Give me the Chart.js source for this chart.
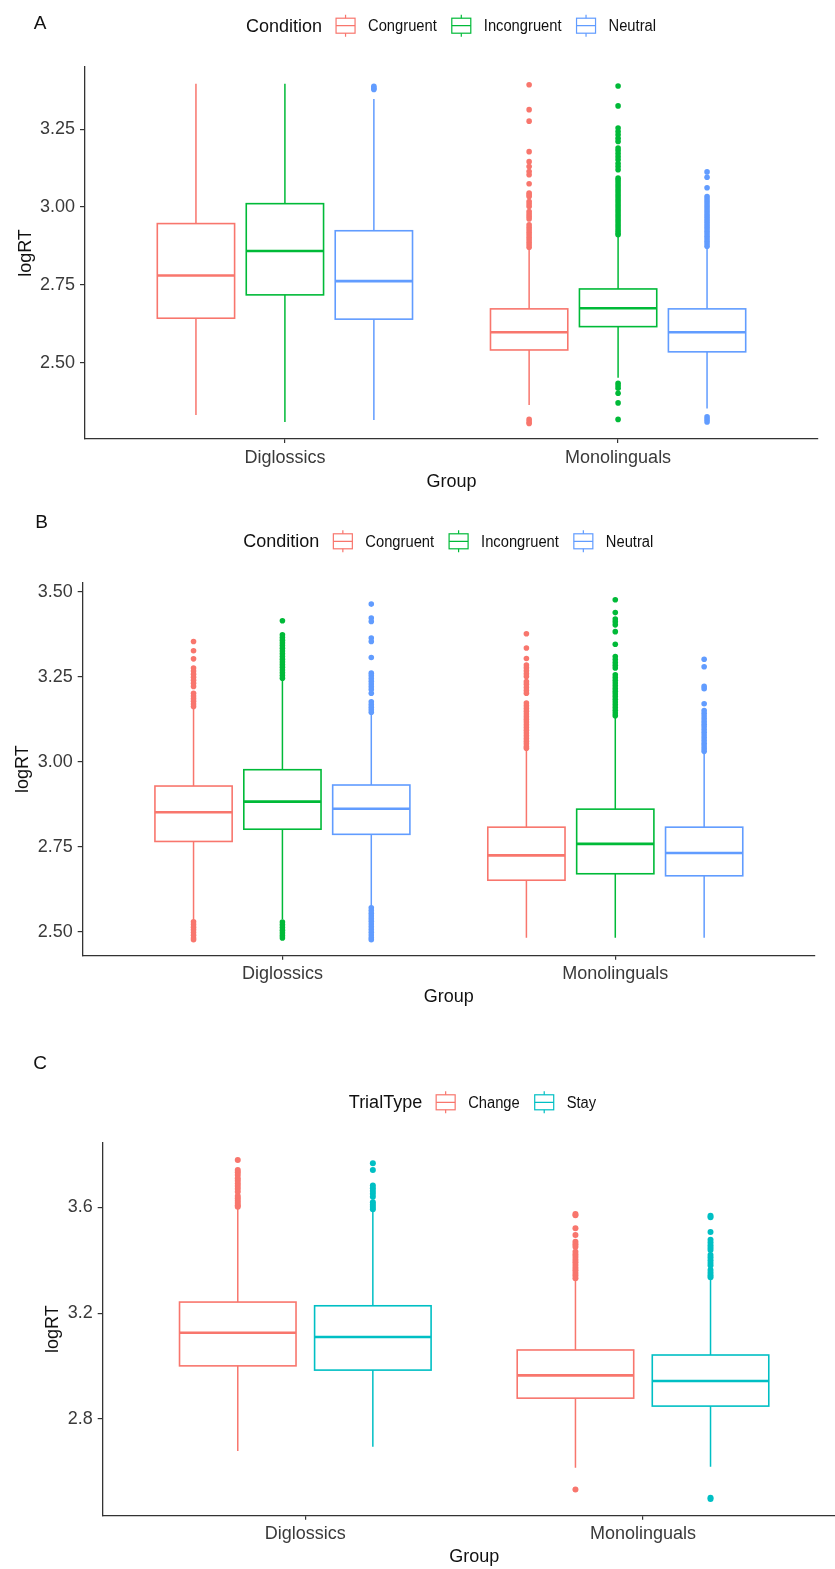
<!DOCTYPE html>
<html>
<head>
<meta charset="utf-8">
<script src="https://cdn.jsdelivr.net/npm/chart.js@4"></script>
<style>
html,body{margin:0;padding:0;background:#fff;overflow:hidden;width:835px;height:1569px}
.p{position:absolute;left:0;width:835px;overflow:hidden}
canvas{display:block}
</style>
</head>
<body>
<div class="p" style="top:0;height:500px"><canvas id="cA" width="835" height="500" style="width:835px;height:500px"></canvas></div>
<div class="p" style="top:500px;height:540px"><canvas id="cB" width="835" height="540" style="width:835px;height:540px"></canvas></div>
<div class="p" style="top:1040px;height:529px"><canvas id="cC" width="850" height="529" style="width:850px;height:529px"></canvas></div>
<script>
// ---------- DATA ----------
const groups = ['Diglossics', 'Monolinguals'];
const conditions = ['Congruent', 'Incongruent', 'Neutral'];
const trialTypes = ['Change', 'Stay'];
const conditionColors = ['#F8766D', '#00BA38', '#619CFF'];
const trialColors = ['#F8766D', '#00BFC4'];

const yTicksA = [2.50, 2.75, 3.00, 3.25];
const yTicksB = [2.50, 2.75, 3.00, 3.25, 3.50];
const yTicksC = [2.8, 3.2, 3.6];

// [lower whisker, Q1, median, Q3, upper whisker] for [Diglossics, Monolinguals]
const statsA_Congruent   = [[2.332, 2.643, 2.780, 2.947, 3.396], [2.364, 2.541, 2.598, 2.673, 2.865]];
const statsA_Incongruent = [[2.310, 2.718, 2.859, 3.011, 3.396], [2.452, 2.616, 2.675, 2.737, 2.908]];
const statsA_Neutral     = [[2.316, 2.640, 2.762, 2.924, 3.347], [2.353, 2.535, 2.598, 2.673, 2.868]];

const outA_Congruent = [[], [3.393, 3.313, 3.276, 3.178, 3.146, 3.130, 3.114, 3.104, 3.075, 3.045, 3.040, 3.034, 3.018, 3.010, 3.002, 2.986, 2.978, 2.970, 2.962, 2.943, 2.935, 2.927, 2.919, 2.911, 2.903, 2.895, 2.887, 2.879, 2.871, 2.318, 2.310, 2.305]];
const outA_Incongruent = [[], [3.389, 3.325, 3.254, 3.243, 3.232, 3.221, 3.211, 3.190, 3.182, 3.172, 3.162, 3.152, 3.140, 3.130, 3.120, 3.093, 3.085, 3.077, 3.069, 3.061, 3.053, 3.045, 3.037, 3.029, 3.021, 3.013, 3.005, 2.997, 2.989, 2.981, 2.973, 2.965, 2.957, 2.949, 2.941, 2.933, 2.925, 2.917, 2.911, 2.434, 2.426, 2.418, 2.402, 2.371, 2.318]];
const outA_Neutral = [[3.382, 3.388, 3.378], [3.113, 3.096, 3.062, 3.034, 3.026, 3.018, 3.010, 3.002, 2.994, 2.986, 2.978, 2.970, 2.962, 2.954, 2.946, 2.938, 2.930, 2.922, 2.914, 2.906, 2.898, 2.890, 2.882, 2.874, 2.326, 2.318, 2.310]];

const statsB_Congruent   = [[2.535, 2.765, 2.851, 2.928, 3.160], [2.482, 2.651, 2.724, 2.807, 3.036]];
const statsB_Incongruent = [[2.536, 2.801, 2.882, 2.976, 3.240], [2.482, 2.670, 2.758, 2.860, 3.132]];
const statsB_Neutral     = [[2.574, 2.786, 2.861, 2.931, 3.142], [2.482, 2.664, 2.731, 2.807, 3.025]];

const outB_Congruent = [[3.353, 3.326, 3.302, 3.275, 3.266, 3.257, 3.248, 3.239, 3.230, 3.221, 3.201, 3.193, 3.185, 3.177, 3.169, 3.162, 2.529, 2.521, 2.513, 2.505, 2.497, 2.489, 2.481, 2.476],
  [3.376, 3.334, 3.303, 3.284, 3.276, 3.267, 3.258, 3.250, 3.235, 3.227, 3.218, 3.209, 3.201, 3.172, 3.164, 3.156, 3.148, 3.140, 3.132, 3.124, 3.116, 3.108, 3.100, 3.092, 3.084, 3.076, 3.068, 3.060, 3.052, 3.044, 3.039]];
const outB_Incongruent = [[3.414, 3.373, 3.365, 3.357, 3.349, 3.341, 3.333, 3.325, 3.317, 3.309, 3.301, 3.293, 3.285, 3.277, 3.269, 3.261, 3.253, 3.245, 2.528, 2.520, 2.512, 2.504, 2.496, 2.488, 2.481],
  [3.476, 3.438, 3.419, 3.411, 3.402, 3.382, 3.345, 3.309, 3.300, 3.291, 3.283, 3.275, 3.255, 3.247, 3.239, 3.231, 3.223, 3.215, 3.207, 3.199, 3.191, 3.183, 3.175, 3.167, 3.159, 3.151, 3.143, 3.135]];
const outB_Neutral = [[3.463, 3.422, 3.412, 3.363, 3.353, 3.306, 3.260, 3.252, 3.244, 3.236, 3.228, 3.220, 3.212, 3.201, 3.176, 3.168, 3.160, 3.152, 3.145, 2.570, 2.562, 2.554, 2.546, 2.538, 2.530, 2.522, 2.514, 2.506, 2.498, 2.490, 2.482, 2.476],
  [3.301, 3.279, 3.221, 3.214, 3.170, 3.150, 3.142, 3.134, 3.126, 3.118, 3.110, 3.102, 3.094, 3.086, 3.078, 3.070, 3.062, 3.054, 3.046, 3.038, 3.030]];

const statsC_Change = [[2.679, 3.001, 3.126, 3.242, 3.598], [2.616, 2.879, 2.965, 3.061, 3.328]];
const statsC_Stay   = [[2.695, 2.985, 3.110, 3.228, 3.590], [2.620, 2.849, 2.944, 3.042, 3.334]];

const outC_Change = [[3.779, 3.741, 3.732, 3.722, 3.710, 3.700, 3.690, 3.680, 3.670, 3.659, 3.643, 3.634, 3.625, 3.616, 3.608, 3.602],
  [3.575, 3.570, 3.521, 3.495, 3.470, 3.460, 3.451, 3.432, 3.422, 3.412, 3.402, 3.392, 3.382, 3.372, 3.362, 3.352, 3.342, 3.332, 2.534]];
const outC_Stay = [[3.766, 3.741, 3.682, 3.672, 3.662, 3.651, 3.640, 3.619, 3.610, 3.601, 3.593],
  [3.568, 3.562, 3.507, 3.477, 3.467, 3.457, 3.447, 3.439, 3.420, 3.410, 3.400, 3.390, 3.380, 3.363, 3.353, 3.343, 3.336, 2.503, 2.498]];

// ---------- RENDERING ----------
const FONT = '"Liberation Sans", Arial, sans-serif';
Chart.defaults.font.family = FONT;
Chart.defaults.animation = false;

function drawKey(ctx, x, cy, color) {
  const w = 19, h = 15;
  ctx.save();
  ctx.strokeStyle = color;
  ctx.lineWidth = 1.2;
  ctx.strokeRect(x, cy - h / 2, w, h);
  ctx.beginPath();
  ctx.moveTo(x, cy); ctx.lineTo(x + w, cy);
  ctx.moveTo(x + w / 2, cy - h / 2); ctx.lineTo(x + w / 2, cy - h / 2 - 3.5);
  ctx.moveTo(x + w / 2, cy + h / 2); ctx.lineTo(x + w / 2, cy + h / 2 + 3.5);
  ctx.stroke();
  ctx.restore();
}

function makePanel(cfg) {
  const boxPlugin = {
    id: 'boxes' + cfg.letter,
    beforeDatasetsDraw(chart) {
      const {ctx, scales: {x, y}} = chart;
      ctx.save();
      cfg.stats.forEach((series, s) => {
        series.forEach((st, g) => {
          const c = x.getPixelForValue(g + 1 + cfg.offsets[s]);
          const hw = (x.getPixelForValue(1 + cfg.width / 2) - x.getPixelForValue(1 - cfg.width / 2)) / 2;
          const [lo, q1, med, q3, hi] = st.map(v => y.getPixelForValue(v));
          ctx.strokeStyle = cfg.colors[s];
          ctx.lineWidth = 1.5;
          ctx.beginPath();
          ctx.moveTo(c, lo); ctx.lineTo(c, q1);
          ctx.moveTo(c, q3); ctx.lineTo(c, hi);
          ctx.stroke();
          ctx.fillStyle = '#fff';
          ctx.fillRect(c - hw, q3, 2 * hw, q1 - q3);
          ctx.lineWidth = 1.6;
          ctx.strokeRect(c - hw, q3, 2 * hw, q1 - q3);
          ctx.lineWidth = 2.6;
          ctx.beginPath();
          ctx.moveTo(c - hw, med); ctx.lineTo(c + hw, med);
          ctx.stroke();
        });
      });
      ctx.restore();
    }
  };
  const decoPlugin = {
    id: 'deco' + cfg.letter,
    afterDraw(chart) {
      const ctx = chart.ctx;
      ctx.save();
      ctx.textBaseline = 'middle';
      ctx.fillStyle = '#111';
      ctx.textAlign = 'center';
      ctx.font = '19px ' + FONT;
      ctx.fillText(cfg.letter, cfg.letterPos[0], cfg.letterPos[1]);
      ctx.textAlign = 'left';
      ctx.font = '18px ' + FONT;
      let cx = cfg.legendPos[0];
      const ly = cfg.legendPos[1];
      ctx.fillText(cfg.legendTitle, cx, ly);
      cx += ctx.measureText(cfg.legendTitle).width + 14;
      ctx.font = '16px ' + FONT;
      cfg.names.forEach((nm, i) => {
        drawKey(ctx, cx, ly - 1, cfg.colors[i]);
        cx += 19 + 13;
        ctx.save();
        ctx.translate(cx, ly);
        ctx.scale(0.92, 1);
        ctx.fillStyle = '#111';
        ctx.fillText(nm, 0, 0);
        ctx.restore();
        cx += ctx.measureText(nm).width * 0.92 + 15;
      });
      ctx.restore();
    }
  };
  const datasets = cfg.outs.map((series, s) => ({
    label: cfg.names[s],
    data: series.flatMap((vals, g) => vals.map(v => ({x: g + 1 + cfg.offsets[s], y: v}))),
    pointRadius: cfg.radius,
    pointHoverRadius: cfg.radius,
    pointBackgroundColor: cfg.colors[s],
    pointBorderWidth: 0,
    showLine: false
  }));
  return new Chart(document.getElementById(cfg.id), {
    type: 'scatter',
    data: {datasets},
    plugins: [boxPlugin, decoPlugin],
    options: {
      responsive: false,
      animation: false,
      events: [],
      layout: {padding: cfg.padding},
      plugins: {legend: {display: false}, tooltip: {enabled: false}},
      scales: {
        x: {
          type: 'linear', min: 0.4, max: 2.6,
          afterBuildTicks: (ax) => { ax.ticks = groups.map((_, i) => ({value: i + 1})); },
          afterFit: (ax) => { ax.height = cfg.xHeight; },
          ticks: {autoSkip: false, maxRotation: 0, minRotation: 0, padding: 4, color: '#3a3a3a',
            font: {size: 18}, callback: (v) => groups[Math.round(v) - 1]},
          grid: {drawOnChartArea: false, drawTicks: true, tickLength: 4, color: '#333', lineWidth: 1.2},
          border: {display: true, color: '#333', width: 1.3},
          title: {display: true, text: 'Group', color: '#111', font: {size: 18}, padding: {top: 0, bottom: 0}}
        },
        y: {
          type: 'linear', min: cfg.yMin, max: cfg.yMax,
          afterBuildTicks: (ax) => { ax.ticks = cfg.yTicks.map(v => ({value: v})); },
          afterFit: (ax) => { ax.width = cfg.yWidth; },
          ticks: {autoSkip: false, padding: 5, color: '#3a3a3a', font: {size: 18},
            callback: (v) => Number(v).toFixed(cfg.dec)},
          grid: {drawOnChartArea: false, drawTicks: true, tickLength: 5, color: '#333', lineWidth: 1.2},
          border: {display: true, color: '#333', width: 1.3},
          title: {display: true, text: 'logRT', color: '#111', font: {size: 18}, padding: {top: cfg.yTitlePad, bottom: 0}}
        }
      }
    }
  });
}

makePanel({
  id: 'cA', letter: 'A', letterPos: [40, 24], legendPos: [246, 26.7], legendTitle: 'Condition',
  names: conditions, colors: conditionColors,
  stats: [statsA_Congruent, statsA_Incongruent, statsA_Neutral],
  outs: [outA_Congruent, outA_Incongruent, outA_Neutral],
  offsets: [-0.267, 0, 0.267], width: 0.232, radius: 2.8,
  yTicks: yTicksA, dec: 2, yMin: 2.255, yMax: 3.45,
  padding: {left: 0, top: 67, right: 17, bottom: 7.5}, yWidth: 85, xHeight: 53.5, yTitlePad: 15
});
makePanel({
  id: 'cB', letter: 'B', letterPos: [41.5, 23], legendPos: [243.3, 42.3], legendTitle: 'Condition',
  names: conditions, colors: conditionColors,
  stats: [statsB_Congruent, statsB_Incongruent, statsB_Neutral],
  outs: [outB_Congruent, outB_Incongruent, outB_Neutral],
  offsets: [-0.267, 0, 0.267], width: 0.232, radius: 2.8,
  yTicks: yTicksB, dec: 2, yMin: 2.429, yMax: 3.526,
  padding: {left: 0, top: 82.7, right: 20, bottom: 31.9}, yWidth: 82.7, xHeight: 52.4, yTitlePad: 12.2
});
makePanel({
  id: 'cC', letter: 'C', letterPos: [40, 23.3], legendPos: [348.8, 63.3], legendTitle: 'TrialType',
  names: trialTypes, colors: trialColors,
  stats: [statsC_Change, statsC_Stay],
  outs: [outC_Change, outC_Stay],
  offsets: [-0.2, 0.2], width: 0.345, radius: 3,
  yTicks: yTicksC, dec: 1, yMin: 2.435, yMax: 3.844,
  padding: {left: 0, top: 102.7, right: 4.4, bottom: 0.9}, yWidth: 102.7, xHeight: 52.4, yTitlePad: 42.7
});
</script>
</body>
</html>
